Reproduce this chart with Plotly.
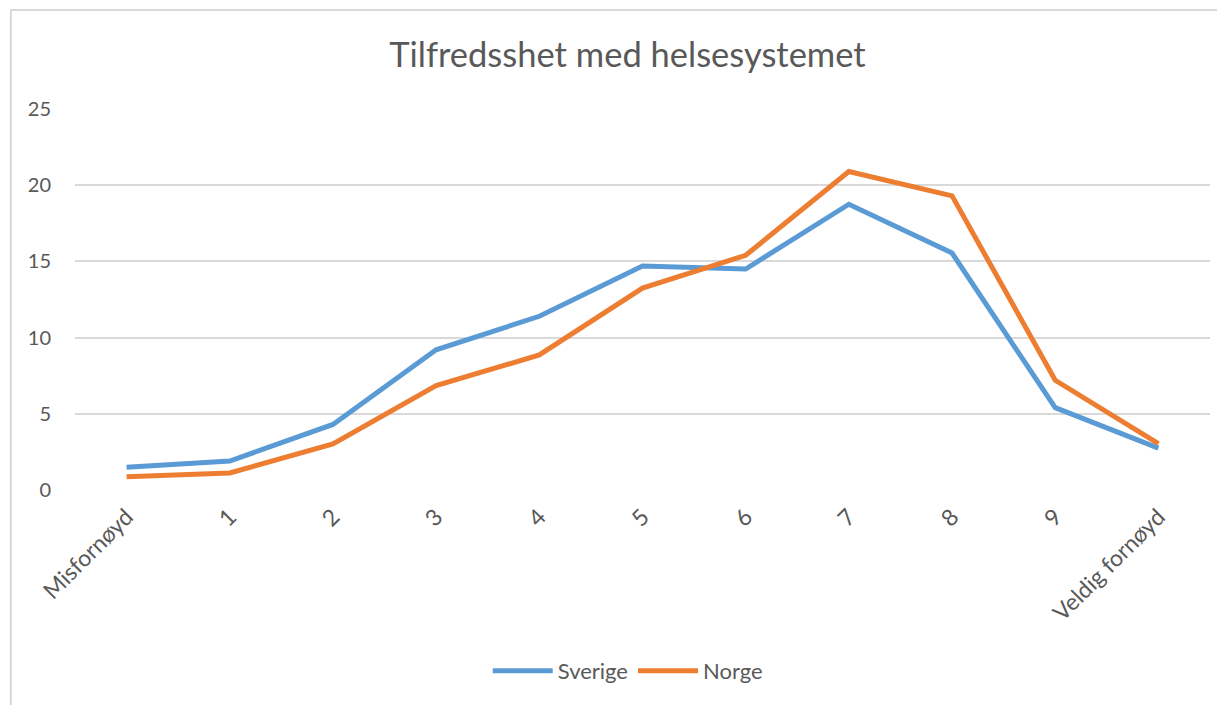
import plotly.graph_objects as go

categories = ["Misfornøyd", "1", "2", "3", "4", "5", "6", "7", "8", "9", "Veldig fornøyd"]
sverige = [1.5, 1.9, 4.3, 9.2, 11.4, 14.7, 14.5, 18.75, 15.55, 5.4, 2.75]
norge = [0.87, 1.12, 3.02, 6.85, 8.86, 13.25, 15.4, 20.9, 19.3, 7.2, 3.05]
y_ticks = [0, 5, 10, 15, 20, 25]

FONT = "Lato, 'Open Sans', sans-serif"
GREY = "#595959"

fig = go.Figure()
fig.add_trace(go.Scatter(x=categories, y=sverige, name="Sverige", mode="lines",
                         line=dict(color="#5B9BD5", width=5)))
fig.add_trace(go.Scatter(x=categories, y=norge, name="Norge", mode="lines",
                         line=dict(color="#ED7D31", width=5)))

fig.update_layout(
    width=1217, height=697,
    paper_bgcolor="white", plot_bgcolor="white",
    margin=dict(l=67, r=15, t=101, b=215),
    title=dict(text="Tilfredsshet med helsesystemet", x=0.509, xanchor="center",
               y=0.933, yanchor="middle",
               font=dict(family=FONT, size=34.5, color=GREY)),
    font=dict(family=FONT, color=GREY, size=19),
    xaxis=dict(type="category", tickangle=-45, showgrid=False, showline=False,
               ticks="", tickfont=dict(size=23, color=GREY), range=[-0.5, 10.5],
               ticklabelstandoff=8, automargin=False),
    yaxis=dict(range=[0, 25], tickvals=y_ticks, showgrid=True, gridcolor="#D9D9D9",
               gridwidth=1.5, zeroline=False, showline=False, ticks="",
               ticklabelstandoff=23, automargin=False,
               tickfont=dict(size=20, color=GREY)),
    legend=dict(orientation="h", x=0.487, xanchor="center", y=-0.475, yanchor="middle",
                font=dict(size=22, color=GREY), itemwidth=60),
    showlegend=True,
)

# chart frame (top and left edges)
fig.add_shape(type="line", xref="paper", yref="paper", x0=-0.057, x1=1.03, y0=1.26, y1=1.26,
              line=dict(color="#D9D9D9", width=2))
fig.add_shape(type="line", xref="paper", yref="paper", x0=-0.0565, x1=-0.0565, y0=1.26, y1=-0.6,
              line=dict(color="#D9D9D9", width=2))

fig.write_html("out.html")
